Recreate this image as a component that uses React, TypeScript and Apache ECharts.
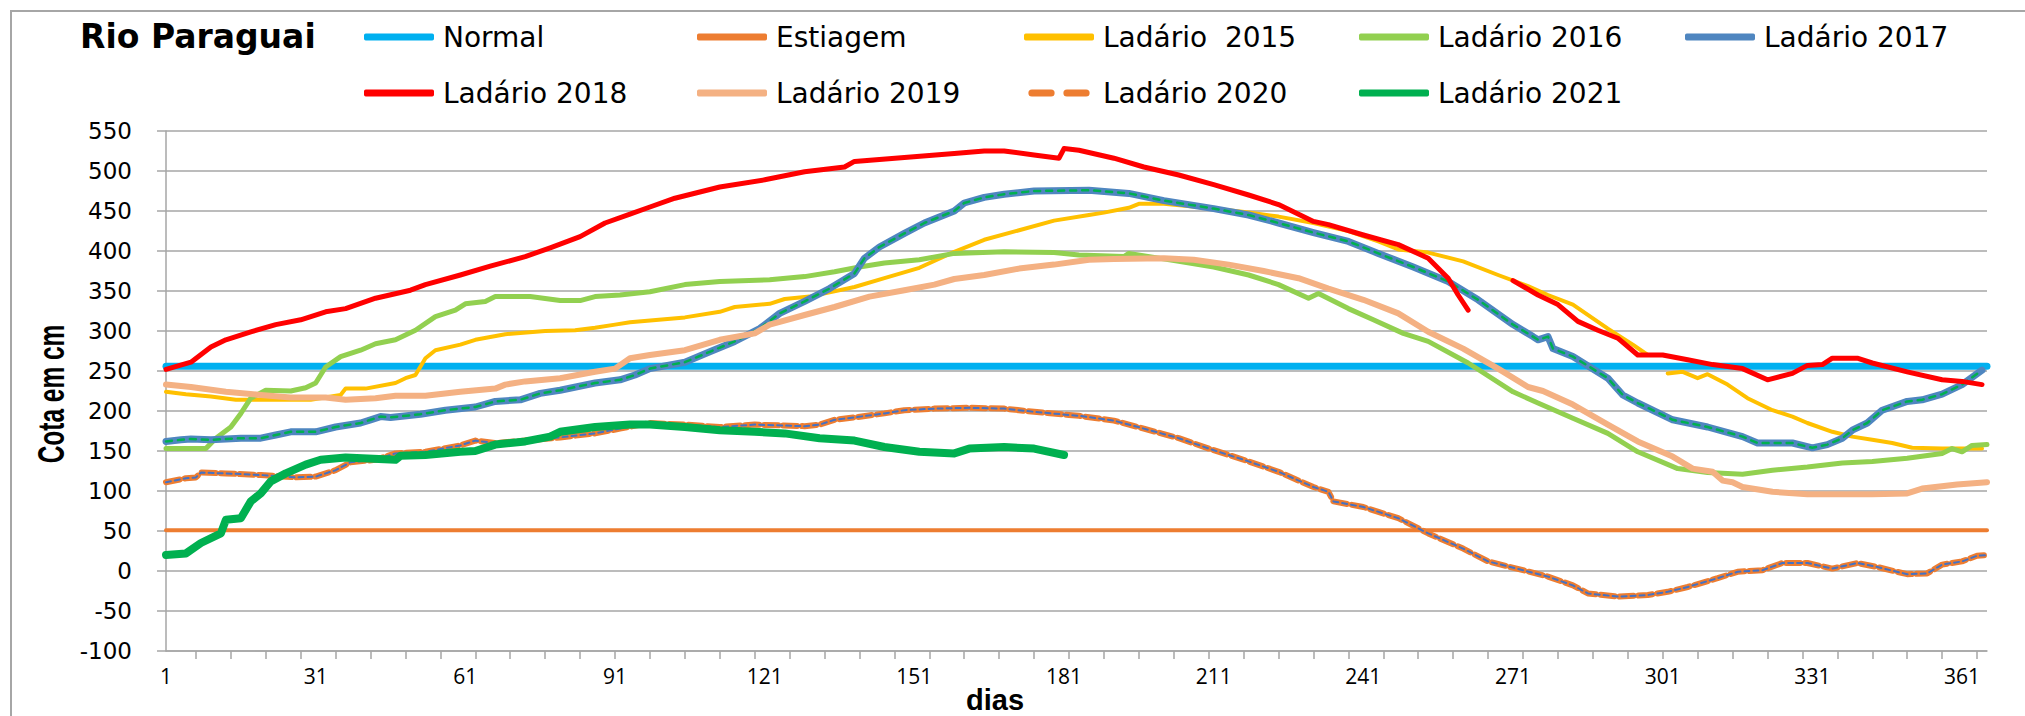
import React, { useEffect, useRef } from "react";
import * as echarts from "echarts";

// ---------- data ----------
const dayLabels: string[] = Array.from({ length: 366 }, (_, i) => String(i + 1));
const yMin = -100;
const yMax = 550;
const yStep = 50;

type Pt = [number, number | null];

const normalLevel = 256;
const estiagemLevel = 51;
const normal: Pt[] = [[1, normalLevel], [366, normalLevel]];
const estiagem: Pt[] = [[1, estiagemLevel], [366, estiagemLevel]];

const ladario2015: Pt[] = [
  [1, 224], [5, 221], [10, 218], [15, 214], [30, 214], [36, 220], [37, 228], [41, 228], [47, 235], [49, 241],
  [51, 245], [53, 266], [55, 276], [60, 283], [63, 289], [69, 296], [77, 300], [83, 301], [87, 304], [91, 308],
  [94, 311], [105, 317], [112, 324], [115, 330], [122, 334], [125, 340], [130, 343], [139, 355], [145, 366],
  [152, 379], [159, 399], [165, 414], [172, 426], [179, 438], [186, 445], [189, 448], [194, 454], [196, 459],
  [201, 459], [211, 453], [218, 448], [224, 443], [231, 435], [238, 425], [244, 412], [248, 402], [254, 398],
  [261, 387], [268, 370], [274, 356], [278, 345], [283, 333], [290, 303], [295, 283], [298, 270], [300, null],
  [302, 247], [305, 249], [308, 241], [310, 246], [314, 233], [318, 216], [323, 201], [327, 193], [330, 185],
  [335, 174], [339, 168], [343, 164], [347, 160], [351, 154], [357, 153], [365, 153],
];

const ladario2016: Pt[] = [
  [1, 153], [9, 153], [11, 166], [14, 180], [16, 197], [18, 216], [21, 226], [26, 225], [29, 229], [31, 235],
  [33, 255], [36, 268], [40, 276], [43, 284], [47, 289], [51, 301], [55, 318], [59, 326], [61, 334], [65, 337],
  [67, 343], [74, 343], [80, 338], [84, 338], [87, 343], [92, 345], [98, 349], [105, 358], [112, 362], [122, 364],
  [129, 368], [135, 374], [140, 380], [145, 385], [152, 389], [159, 397], [169, 399], [179, 398], [184, 395],
  [193, 393], [194, 397], [204, 387], [211, 380], [218, 370], [224, 358], [230, 341], [232, 347], [238, 328],
  [243, 314], [249, 297], [254, 287], [262, 260], [271, 224], [276, 210], [283, 191], [290, 172], [296, 149],
  [304, 128], [310, 123], [317, 121], [323, 126], [330, 130], [337, 135], [343, 137], [350, 141], [357, 147],
  [359, 153], [361, 149], [363, 157], [366, 158],
];

const ladario2017: Pt[] = [
  [1, 162], [4, 164], [6, 165], [10, 164], [16, 166], [20, 166], [23, 170], [26, 174], [31, 174], [35, 180],
  [40, 185], [42, 189], [44, 193], [46, 192], [52, 196], [57, 201], [63, 205], [67, 212], [72, 214], [76, 222],
  [80, 226], [87, 235], [92, 239], [95, 245], [98, 253], [105, 261], [110, 274], [115, 287], [120, 303],
  [124, 322], [129, 337], [134, 353], [139, 372], [141, 391], [144, 405], [149, 422], [153, 435], [159, 450],
  [161, 460], [165, 467], [169, 471], [175, 475], [186, 476], [194, 472], [201, 463], [211, 453], [218, 445],
  [224, 435], [231, 423], [238, 412], [244, 397], [251, 380], [258, 362], [264, 339], [271, 308], [275, 293],
  [276, 289], [278, 293], [279, 278], [283, 268], [290, 241], [293, 220], [296, 210], [303, 189], [310, 180],
  [317, 168], [320, 160], [327, 160], [331, 154], [334, 158], [337, 166], [339, 176], [342, 185], [345, 201],
  [350, 212], [353, 214], [357, 221], [361, 233], [365, 251],
];

const ladario2018: Pt[] = [
  [1, 252], [6, 261], [10, 280], [13, 289], [18, 299], [23, 308], [28, 314], [33, 324], [37, 328], [43, 341],
  [50, 351], [53, 358], [60, 370], [66, 381], [73, 393], [78, 404], [84, 418], [89, 435], [94, 446], [98, 455],
  [103, 466], [112, 480], [121, 489], [129, 499], [137, 505], [139, 512], [149, 517], [159, 522], [165, 525],
  [169, 525], [175, 520], [180, 516], [181, 528], [184, 526], [191, 516], [197, 505], [204, 495], [211, 483],
  [218, 470], [224, 458], [231, 437], [234, 433], [241, 420], [248, 408], [254, 391], [258, 366], [260, 345],
  [262, 326], [266, null], [271, 363], [276, 345], [280, 333], [284, 312], [288, 301], [292, 291], [296, 270],
  [301, 270], [306, 264], [311, 258], [317, 253], [322, 239], [327, 247], [330, 257], [333, 258], [335, 266],
  [340, 266], [343, 260], [350, 249], [357, 239], [361, 237], [365, 233],
];

const ladario2019: Pt[] = [
  [1, 233], [6, 230], [13, 224], [20, 220], [26, 217], [33, 217], [37, 214], [43, 216], [47, 219], [53, 219],
  [60, 224], [67, 228], [69, 233], [73, 237], [80, 241], [87, 249], [91, 253], [94, 266], [98, 270], [105, 276],
  [112, 289], [119, 297], [122, 308], [129, 320], [135, 330], [142, 343], [149, 351], [155, 358], [159, 365],
  [165, 370], [172, 378], [179, 383], [186, 389], [191, 390], [201, 391], [207, 389], [214, 383], [221, 375],
  [228, 366], [234, 353], [241, 339], [248, 322], [254, 299], [261, 278], [268, 253], [274, 230], [277, 225],
  [283, 208], [290, 183], [296, 162], [303, 143], [307, 128], [311, 124], [313, 113], [315, 111], [317, 105],
  [323, 99], [330, 96], [343, 96], [350, 97], [353, 103], [360, 108], [366, 111],
];

const ladario2020: Pt[] = [
  [1, 111], [5, 116], [7, 117], [8, 123], [13, 122], [20, 120], [27, 117], [31, 118], [35, 126], [38, 136],
  [43, 139], [47, 147], [53, 149], [60, 157], [63, 163], [67, 160], [73, 163], [80, 167], [87, 172], [92, 178],
  [98, 185], [105, 183], [112, 180], [119, 183], [129, 181], [132, 183], [135, 189], [139, 192], [145, 197],
  [149, 201], [155, 203], [162, 204], [169, 203], [175, 199], [182, 195], [184, 194], [191, 188], [197, 178],
  [204, 166], [211, 151], [218, 137], [224, 124], [231, 105], [234, 99], [235, 87], [241, 80], [248, 66],
  [254, 47], [261, 28], [266, 12], [273, 1], [278, -7], [283, -18], [286, -28], [292, -32], [298, -30],
  [302, -26], [306, -20], [312, -9], [316, -1], [321, 1], [325, 10], [330, 10], [335, 3], [340, 10], [344, 5],
  [350, -4], [354, -3], [357, 8], [361, 12], [364, 19], [366, 20],
];

const ladario2021: Pt[] = [
  [1, 20], [5, 22], [8, 35], [12, 47], [13, 64], [16, 66], [18, 87], [20, 97], [22, 112], [25, 122], [29, 133],
  [32, 139], [37, 142], [47, 139], [48, 144], [53, 145], [60, 149], [63, 150], [67, 158], [73, 162], [78, 168],
  [80, 174], [87, 180], [94, 183], [98, 183], [105, 180], [112, 176], [119, 174], [125, 172], [132, 166],
  [139, 163], [145, 155], [152, 149], [159, 147], [162, 153], [169, 155], [175, 153], [181, 145],
];

// ---------- styling ----------
const gridColor = "#A6A6A6";
const legendFont = "DejaVu Sans";
const dashedIcon =
  "path://M4,0 H26 A4,4 0 0 1 26,8 H4 A4,4 0 0 1 4,0 Z M44,0 H66 A4,4 0 0 1 66,8 H44 A4,4 0 0 1 44,0 Z";

function toData(pts: Pt[]) {
  return pts.map(([d, v]) => [String(d), v === null ? "-" : v]);
}

function lineSeries(name: string, pts: Pt[], color: string, width: number, z: number, type: any = "solid") {
  return {
    type: "line",
    name,
    data: toData(pts),
    symbol: "none",
    showSymbol: false,
    connectNulls: false,
    z,
    itemStyle: { color },
    lineStyle: { color, width, type, cap: "round", join: "round" },
    emphasis: { disabled: true },
    animation: false,
  };
}

const legendCommon = {
  orient: "vertical",
  top: 23,
  padding: 0,
  itemGap: 28,
  itemWidth: 70,
  itemHeight: 7,
  icon: "roundRect",
  selectedMode: false,
  textStyle: { fontFamily: legendFont, fontSize: 28, color: "#000", padding: [0, 0, 0, 4] },
};

export default function App() {
  const ref = useRef<HTMLDivElement>(null);

  useEffect(() => {
    document.body.style.margin = "0";
    const chart = echarts.init(ref.current!, null, { renderer: "svg" });
    chart.setOption({
      animation: false,
      backgroundColor: "#fff",
      title: {
        text: "Rio Paraguai",
        left: 80,
        top: 20,
        padding: 0,
        textStyle: { fontFamily: "DejaVu Sans", fontWeight: "bold", fontSize: 33, color: "#000" },
      },
      legend: [
        { ...legendCommon, left: 364, data: ["Normal", "Ladário 2018"] },
        { ...legendCommon, left: 697, data: ["Estiagem", "Ladário 2019"] },
        { ...legendCommon, left: 1024, data: ["Ladário  2015", { name: "Ladário 2020", icon: dashedIcon }] },
        { ...legendCommon, left: 1359, data: ["Ladário 2016", "Ladário 2021"] },
        { ...legendCommon, left: 1685, data: ["Ladário 2017"] },
      ],
      grid: { left: 166, right: 38, top: 131, bottom: 65, containLabel: false },
      xAxis: {
        type: "category",
        data: dayLabels,
        boundaryGap: false,
        axisLine: { onZero: false, lineStyle: { color: gridColor, width: 1.5 } },
        axisTick: {
          show: true,
          length: 8,
          interval: (i: number) => (i + 1) % 7 === 0,
          lineStyle: { color: gridColor, width: 1.5 },
        },
        axisLabel: {
          interval: (i: number) => i % 30 === 0,
          margin: 14,
          fontFamily: "Open Sans",
          fontSize: 21,
          color: "#000",
        },
        splitLine: { show: false },
      },
      yAxis: {
        type: "value",
        min: yMin,
        max: yMax,
        interval: yStep,
        axisLine: { show: true, lineStyle: { color: gridColor, width: 1.5 } },
        axisTick: { show: true, length: 9, lineStyle: { color: gridColor, width: 1.5 } },
        axisLabel: { margin: 34, fontFamily: "DejaVu Sans", fontSize: 23, color: "#000" },
        splitLine: { show: true, lineStyle: { color: gridColor, width: 1.5 } },
      },
      graphic: [
        {
          type: "rect",
          silent: true,
          z: -10,
          shape: { x: 11, y: 11, width: 2300, height: 900 },
          style: { fill: "none", stroke: "#A6A6A6", lineWidth: 2 },
        },
        {
          type: "text",
          x: 52,
          y: 394,
          rotation: Math.PI / 2,
          scaleX: 0.68,
          silent: true,
          style: {
            text: "Cota em cm",
            fontFamily: "Liberation Sans",
            fontWeight: "bold",
            fontSize: 36,
            fill: "#000",
            textAlign: "center",
            textVerticalAlign: "middle",
          },
        },
        {
          type: "text",
          x: 995,
          y: 700,
          silent: true,
          style: {
            text: "dias",
            fontFamily: "Liberation Sans",
            fontWeight: "bold",
            fontSize: 29,
            fill: "#000",
            textAlign: "center",
            textVerticalAlign: "middle",
          },
        },
      ],
      series: [
        lineSeries("Normal", normal, "#00B0F0", 7, 2),
        lineSeries("Estiagem", estiagem, "#ED7D31", 4, 2),
        lineSeries("Ladário  2015", ladario2015, "#FFC000", 4, 3),
        lineSeries("Ladário 2016", ladario2016, "#92D050", 5, 4),
        lineSeries("Ladário 2017", ladario2017, "#4F86C0", 7, 5),
        lineSeries("Ladário 2017", ladario2017, "#00B050", 2.5, 6, [6, 6]),
        lineSeries("Ladário 2018", ladario2018, "#FF0000", 5, 7),
        lineSeries("Ladário 2019", ladario2019, "#F4B183", 6, 8),
        lineSeries("Ladário 2020", ladario2020, "#ED7D31", 6, 9, [14, 5]),
        lineSeries("Ladário 2020", ladario2020, "#4472C4", 2, 10, [5, 4]),
        lineSeries("Ladário 2021", ladario2021, "#00B050", 8, 11),
      ],
    });
    return () => chart.dispose();
  }, []);

  return <div ref={ref} style={{ width: 2025, height: 716 }} />;
}
